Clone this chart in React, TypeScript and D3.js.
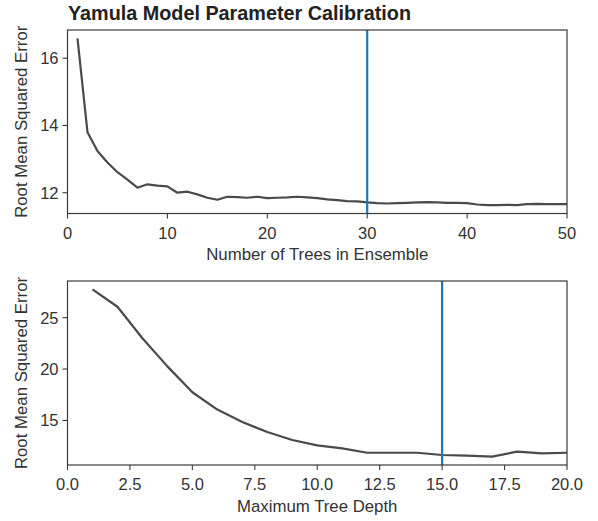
import React from "react";
import * as d3 from "d3";

// Calibration curves: RMSE versus ensemble size and versus tree depth
const treeCounts = d3.range(1, 51);
const treeRmse = [
  16.59, 13.8, 13.24, 12.9, 12.61, 12.39, 12.15, 12.25, 12.21, 12.19,
  12.0, 12.03, 11.95, 11.85, 11.79, 11.88, 11.87, 11.85, 11.88, 11.84,
  11.85, 11.86, 11.88, 11.86, 11.84, 11.8, 11.78, 11.75, 11.74, 11.71,
  11.69, 11.68, 11.69, 11.7, 11.71, 11.72, 11.71, 11.7, 11.7, 11.69,
  11.65, 11.63, 11.63, 11.64, 11.63, 11.66, 11.67, 11.66, 11.66, 11.66,
];
const depthValues = d3.range(1, 21);
const depthRmse = [
  27.75, 26.06, 23.0, 20.26, 17.74, 16.06, 14.84, 13.87, 13.1, 12.57,
  12.28, 11.86, 11.86, 11.86, 11.64, 11.57, 11.48, 11.96, 11.8, 11.86,
];
const treeTicksX = [0, 10, 20, 30, 40, 50];
const treeTicksY = [12, 14, 16];
const depthTicksX = [0, 2.5, 5, 7.5, 10, 12.5, 15, 17.5, 20];
const depthTicksY = [15, 20, 25];
const chosenTrees = 30;
const chosenDepth = 15;

const W = 598;
const H = 521;
const FONT = "'Liberation Sans', Arial, Helvetica, sans-serif";
const TEXT = "#333333";
const LINE = "#4a4a4a";
const BLUE = "#1f77b4";
const FS = 16.5;

type PanelProps = {
  xs: number[];
  ys: number[];
  xDomain: [number, number];
  xTicks: number[];
  yTicks: number[];
  xFmt: (v: number) => string;
  marker: number;
  top: number;
  bottom: number;
  xLabel: string;
};

function Panel({ xs, ys, xDomain, xTicks, yTicks, xFmt, marker, top, bottom, xLabel }: PanelProps) {
  const left = 67.5;
  const right = 567;
  const lo = d3.min(ys)!;
  const hi = d3.max(ys)!;
  const pad = (hi - lo) * 0.05;
  const x = d3.scaleLinear().domain(xDomain).range([left, right]);
  const y = d3.scaleLinear().domain([lo - pad, hi + pad]).range([bottom, top]);
  const path = d3
    .line<number>()
    .x((_, i) => x(xs[i]))
    .y((d) => y(d))(ys)!;
  const midY = (top + bottom) / 2;
  return (
    <g fontFamily={FONT} fill={TEXT}>
      <path d={path} fill="none" stroke={LINE} strokeWidth={2.2} strokeLinejoin="round" />
      <line x1={x(marker)} x2={x(marker)} y1={top} y2={bottom} stroke={BLUE} strokeWidth={2.2} />
      <rect x={left} y={top} width={right - left} height={bottom - top} fill="none" stroke="#3a3a3a" strokeWidth={1.2} />
      {xTicks.map((t) => (
        <g key={"x" + t}>
          <line x1={x(t)} x2={x(t)} y1={bottom} y2={bottom + 5} stroke="#3a3a3a" strokeWidth={1.1} />
          <text x={x(t)} y={bottom + 25} textAnchor="middle" fontSize={FS}>
            {xFmt(t)}
          </text>
        </g>
      ))}
      {yTicks.map((t) => (
        <g key={"y" + t}>
          <line x1={left - 5} x2={left} y1={y(t)} y2={y(t)} stroke="#3a3a3a" strokeWidth={1.1} />
          <text x={left - 9} y={y(t) + 6} textAnchor="end" fontSize={FS}>
            {t}
          </text>
        </g>
      ))}
      <text x={(left + right) / 2} y={bottom + 46.5} textAnchor="middle" fontSize={16.8}>
        {xLabel}
      </text>
      <text
        transform={`translate(27,${midY}) rotate(-90)`}
        textAnchor="middle"
        fontSize={16.8}
      >
        Root Mean Squared Error
      </text>
    </g>
  );
}

export default function App() {
  return (
    <svg
      width={W}
      height={H}
      style={{ position: "absolute", left: 0, top: 0, background: "#fff" }}
    >
      <rect width={W} height={H} fill="#fff" />
      <text x={68} y={20} fontFamily={FONT} fontWeight="bold" fontSize={19.8} fill="#222">
        Yamula Model Parameter Calibration
      </text>
      <Panel
        xs={treeCounts}
        ys={treeRmse}
        xDomain={[0, 50]}
        xTicks={treeTicksX}
        yTicks={treeTicksY}
        xFmt={(v) => String(v)}
        marker={chosenTrees}
        top={30}
        bottom={213.5}
        xLabel="Number of Trees in Ensemble"
      />
      <Panel
        xs={depthValues}
        ys={depthRmse}
        xDomain={[0, 20]}
        xTicks={depthTicksX}
        yTicks={depthTicksY}
        xFmt={(v) => v.toFixed(1)}
        marker={chosenDepth}
        top={281}
        bottom={465}
        xLabel="Maximum Tree Depth"
      />
    </svg>
  );
}
